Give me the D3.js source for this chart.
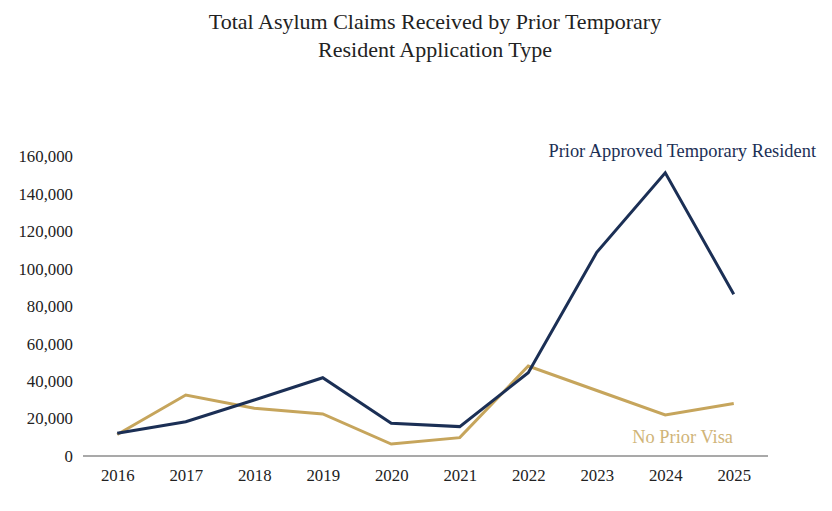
<!DOCTYPE html>
<html>
<head>
<meta charset="utf-8">
<script src="https://cdn.jsdelivr.net/npm/d3@7"></script>
<style>
  body { margin: 0; background: #fff; }
  svg { display: block; font-family: "Liberation Serif", "DejaVu Serif", serif; }
  svg text { font-family: "Liberation Serif", "DejaVu Serif", serif; }
</style>
</head>
<body>
<svg id="chart" width="832" height="511"></svg>
<script>
const years = ["2016","2017","2018","2019","2020","2021","2022","2023","2024","2025"];
const priorApproved = [12100, 18300, 29900, 41800, 17500, 15700, 44500, 108800, 151300, 86400];
const noPriorVisa = [11500, 32600, 25500, 22500, 6400, 9800, 48100, 35000, 21900, 28100];
const yTicks = [0, 20000, 40000, 60000, 80000, 100000, 120000, 140000, 160000];
const titleLines = ["Total Asylum Claims Received by Prior Temporary", "Resident Application Type"];

const navy = "#1b2f55";
const gold = "#c6a55c";

const svg = d3.select("#chart");
const mLeft = 83, mRight = 768, mTop = 156.5, mBottom = 456;

const x = d3.scalePoint().domain(years).range([mLeft, mRight]).padding(0.5);
const y = d3.scaleLinear().domain([0, 160000]).range([mBottom, mTop]);

// Title
svg.append("text")
  .attr("x", 435).attr("y", 0)
  .attr("text-anchor", "middle")
  .attr("font-size", 22)
  .attr("fill", "#222")
  .selectAll("tspan").data(titleLines).join("tspan")
  .attr("x", 435)
  .attr("y", (d, i) => 29 + i * 28)
  .text(d => d);

// Y axis (labels only)
const yAxis = d3.axisLeft(y).tickValues(yTicks).tickSize(0).tickPadding(10)
  .tickFormat(d3.format(","));
const gy = svg.append("g").attr("transform", `translate(${mLeft},0)`).call(yAxis);
gy.select(".domain").remove();
gy.attr("font-family", null);
gy.selectAll("text").attr("font-size", 16.8).attr("fill", "#222");

// X axis
const xAxis = d3.axisBottom(x).tickSize(0).tickPadding(13);
const gx = svg.append("g").attr("transform", `translate(0,${mBottom})`).call(xAxis);
gx.attr("font-family", null);
gx.select(".domain").attr("stroke", "#8c8c8c").attr("stroke-width", 1.3)
  .attr("d", `M${mLeft},0H${mRight}`);
gx.selectAll("text").attr("font-size", 16.8).attr("fill", "#222");

const line = d3.line().x((d, i) => x(years[i])).y(d => y(d));

svg.append("path").datum(noPriorVisa)
  .attr("fill", "none").attr("stroke", gold).attr("stroke-width", 3)
  .attr("stroke-linejoin", "miter").attr("d", line);

svg.append("path").datum(priorApproved)
  .attr("fill", "none").attr("stroke", navy).attr("stroke-width", 3)
  .attr("stroke-linejoin", "miter").attr("d", line);

// Series labels
svg.append("text")
  .attr("x", 816).attr("y", 157)
  .attr("text-anchor", "end")
  .attr("font-size", 18.4)
  .attr("fill", navy)
  .text("Prior Approved Temporary Resident");

svg.append("text")
  .attr("x", 733).attr("y", 443)
  .attr("text-anchor", "end")
  .attr("font-size", 18.4)
  .attr("fill", "#d0b478")
  .text("No Prior Visa");
</script>
</body>
</html>
